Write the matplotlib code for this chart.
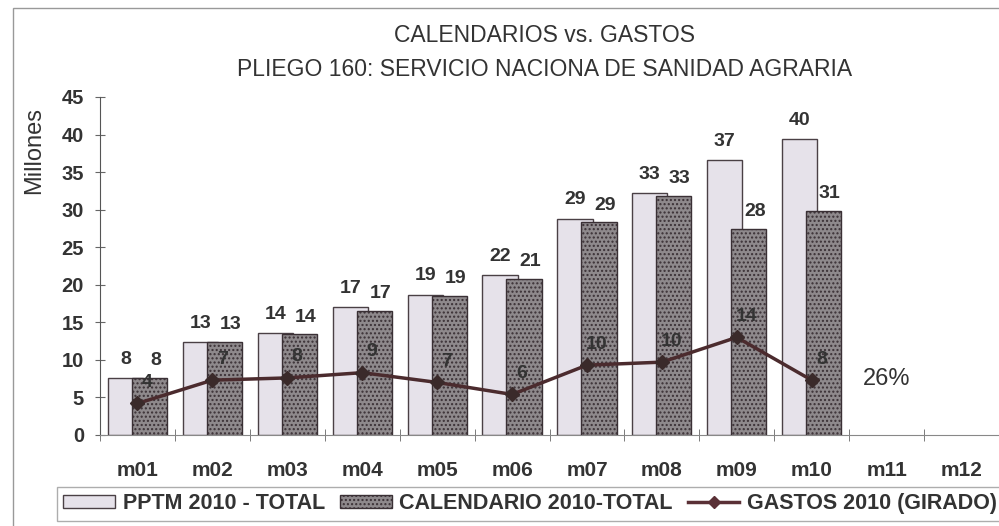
import numpy as np
import matplotlib
matplotlib.use('Agg')
from matplotlib import pyplot as plt
from matplotlib.patches import Rectangle

plt.rcParams['font.family'] = ['Liberation Sans', 'DejaVu Sans']
plt.rcParams['hatch.color'] = '#a9a4a7'
plt.rcParams['hatch.linewidth'] = 1.0

months = ['m01', 'm02', 'm03', 'm04', 'm05', 'm06', 'm07', 'm08', 'm09', 'm10', 'm11', 'm12']

# values (millones)
pptm = [7.6, 12.4, 13.6, 17.0, 18.7, 21.3, 28.8, 32.2, 36.6, 39.4]
pptm_labels = ['8', '13', '14', '17', '19', '22', '29', '33', '37', '40']
calendario = [7.6, 12.4, 13.4, 16.5, 18.5, 20.8, 28.3, 31.8, 27.4, 29.8]
cal_labels = ['8', '13', '14', '17', '19', '21', '29', '33', '28', '31']
gastos = [4.2, 7.3, 7.6, 8.3, 7.0, 5.4, 9.3, 9.7, 13.0, 7.3]
gastos_labels = ['4', '7', '8', '9', '7', '6', '10', '10', '14', '8']
avance = '26%'

fig = plt.figure(figsize=(9.99, 5.26), dpi=100)
W, H = 999, 526
ax = fig.add_axes([100 / W, 1 - 435 / H, 1 - 100 / W, (435 - 97) / H])

x = np.arange(len(pptm))
off = 0.16
bw = 0.47
ax.bar(x - off, pptm, width=bw, color='#e6e2ea', edgecolor='#4a4045', linewidth=1.0, zorder=2)
ax.bar(x + off, calendario, width=bw, color='#8e898c', edgecolor='#3a3035', linewidth=1.0,
       hatch='....', zorder=3)
ax.plot(x, gastos, color='#4b2b2e', linewidth=2.5, marker='D', markersize=7,
        markerfacecolor='#3a2a2a', markeredgecolor='#3a2a2a', zorder=4)

lab = dict(fontsize=14, color='#333333', fontweight='bold', ha='center', va='center')
for i in range(len(pptm)):
    ax.text(x[i] - off, pptm[i] + 2.5, pptm_labels[i], zorder=5, **lab)
    ax.text(x[i] + off + 0.08, calendario[i] + 2.3, cal_labels[i], zorder=5, **lab)
    ax.text(x[i] + 0.13, gastos[i] + 2.8, gastos_labels[i], zorder=5, **lab)

ax.text(10.0, 7.4, avance, fontsize=17, color='#333333', ha='center', va='center')

ax.set_xlim(-0.5, 11.3)
ax.set_ylim(0, 45)
ax.set_yticks(range(0, 46, 5))
ax.set_xticks(range(12))
ax.set_xticklabels(months)
ax.set_xticks(np.arange(-0.5, 12, 1), minor=True)
ax.tick_params(axis='x', which='major', length=0, pad=19, labelsize=15, labelcolor='#333333')
ax.tick_params(axis='x', which='minor', length=8, direction='inout', color='#666666')
ax.tick_params(axis='y', length=7, direction='inout', pad=8, labelsize=14.5,
               labelcolor='#333333', color='#666666')
for t in ax.get_xticklabels() + ax.get_yticklabels():
    t.set_fontweight('bold')
for s in ['top', 'right']:
    ax.spines[s].set_visible(False)
ax.spines['bottom'].set_color('#888888')
ax.spines['left'].set_color('#555555')
ax.patch.set_alpha(0)

fig.text(34 / W, 1 - 150 / H, 'Millones', rotation=90, fontsize=17, color='#333333',
         ha='center', va='center')
fig.text(545 / W, 1 - 36 / H, 'CALENDARIOS vs. GASTOS', fontsize=16.5, color='#333333',
         ha='center', va='center')
fig.text(545 / W, 1 - 69 / H, 'PLIEGO 160: SERVICIO NACIONA DE SANIDAD AGRARIA',
         fontsize=16.5, color='#333333', ha='center', va='center')

# outer frame
fig.patches.append(Rectangle((13 / W, -0.01), 1.0, 1 - 8 / H + 0.01, transform=fig.transFigure,
                             fill=False, edgecolor='#999999', linewidth=1.0))

h1 = Rectangle((0, 0), 1, 1, facecolor='#e6e2ea', edgecolor='#4a4045')
h2 = Rectangle((0, 0), 1, 1, facecolor='#8e898c', edgecolor='#3a3035', hatch='....')
h3, = ax.plot([], [], color='#5a3036', linewidth=2.5, marker='D', markersize=6,
              markerfacecolor='#5a3036', markeredgecolor='#5a3036')
leg = fig.legend([h1, h2, h3], ['PPTM 2010 - TOTAL', 'CALENDARIO 2010-TOTAL', 'GASTOS 2010 (GIRADO)'],
                 loc='upper left', bbox_to_anchor=(57 / W, 1 - 487 / H), ncol=3,
                 fontsize=15.5, frameon=True, fancybox=False, edgecolor='#999999',
                 handlelength=2.4, handleheight=0.55, columnspacing=0.7, handletextpad=0.35,
                 borderpad=0.3, borderaxespad=0)
leg.get_frame().set_linewidth(1.0)
for t in leg.get_texts():
    t.set_fontweight('bold')
    t.set_color('#333333')

fig.savefig('out.png', dpi=100)
